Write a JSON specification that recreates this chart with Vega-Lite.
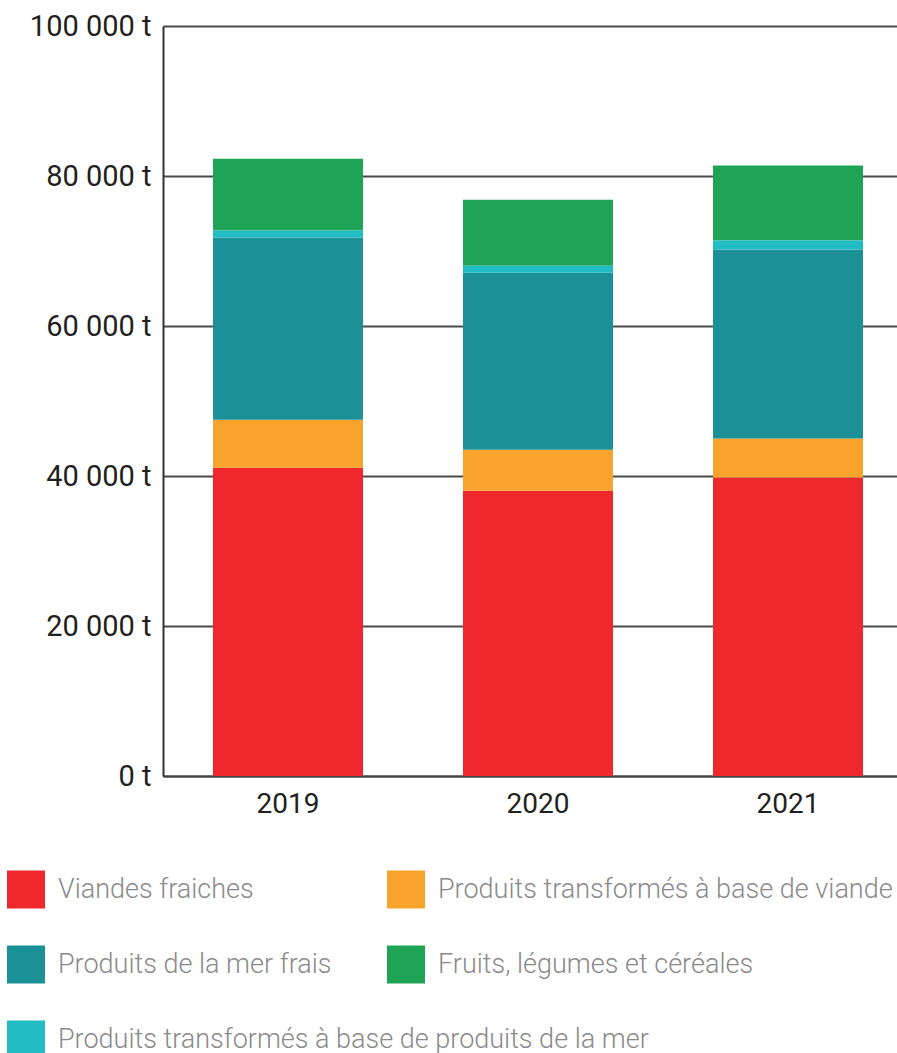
{
  "$schema": "https://vega.github.io/schema/vega-lite/v6.json",
  "width": 750,
  "height": 750,
  "padding": {"left": 6, "top": 12, "right": 0, "bottom": 0},
  "background": "white",
  "config": {
    "view": {"stroke": null},
    "font": "Roboto",
    "locale": {"number": {"decimal": ",", "thousands": " ", "grouping": [3], "currency": ["", " €"]}}
  },
  "data": {
    "values": [
      {"year": "2019", "cat": "Viandes fraiches", "value": 41100},
      {"year": "2019", "cat": "Produits transformés à base de viande", "value": 6400},
      {"year": "2019", "cat": "Produits de la mer frais", "value": 24300},
      {"year": "2019", "cat": "Produits transformés à base de produits de la mer", "value": 950},
      {"year": "2019", "cat": "Fruits, légumes et céréales", "value": 9550},
      {"year": "2020", "cat": "Viandes fraiches", "value": 38050},
      {"year": "2020", "cat": "Produits transformés à base de viande", "value": 5450},
      {"year": "2020", "cat": "Produits de la mer frais", "value": 23600},
      {"year": "2020", "cat": "Produits transformés à base de produits de la mer", "value": 950},
      {"year": "2020", "cat": "Fruits, légumes et céréales", "value": 8800},
      {"year": "2021", "cat": "Viandes fraiches", "value": 39800},
      {"year": "2021", "cat": "Produits transformés à base de viande", "value": 5200},
      {"year": "2021", "cat": "Produits de la mer frais", "value": 25200},
      {"year": "2021", "cat": "Produits transformés à base de produits de la mer", "value": 1200},
      {"year": "2021", "cat": "Fruits, légumes et céréales", "value": 10000}
    ]
  },
  "transform": [
    {"calculate": "indexof(['Viandes fraiches','Produits transformés à base de viande','Produits de la mer frais','Produits transformés à base de produits de la mer','Fruits, légumes et céréales'], datum.cat)", "as": "rank"},
    {"stack": "value", "groupby": ["year"], "sort": [{"field": "rank", "order": "ascending"}], "as": ["v0", "v1"]}
  ],
  "encoding": {
    "x": {
      "field": "year", "type": "ordinal",
      "scale": {"paddingInner": 0.4, "paddingOuter": 0.2},
      "axis": {
        "title": null, "labelAngle": 0, "labelFontSize": 28, "labelColor": "#231f20",
        "labelPadding": 14, "ticks": false, "domainColor": "#444444", "domainWidth": 1.8, "grid": false
      }
    },
    "y": {
      "field": "v1", "type": "quantitative",
      "scale": {"domain": [0, 100000], "nice": false},
      "axis": {
        "title": null, "values": [0, 20000, 40000, 60000, 80000, 100000],
        "format": ",d", "labelExpr": "datum.label + ' t'",
        "labelFontSize": 29, "labelColor": "#231f20", "labelPadding": 12,
        "ticks": false, "domainColor": "#333333", "domainWidth": 2,
        "gridColor": "#4a4a4a", "gridWidth": 1.8,
        "minExtent": 157, "maxExtent": 157
      }
    },
    "y2": {"field": "v0"}
  },
  "layer": [
    {
      "transform": [{"filter": "datum.cat !== 'Produits transformés à base de produits de la mer'"}],
      "mark": {"type": "bar"},
      "encoding": {
        "color": {
          "field": "cat", "type": "nominal",
          "scale": {
            "domain": ["Viandes fraiches", "Produits transformés à base de viande", "Produits de la mer frais", "Fruits, légumes et céréales"],
            "range": ["#ee282d", "#f7a32c", "#1b9197", "#1fa354"]
          },
          "legend": {
            "title": null, "orient": "none", "legendX": -156, "legendY": 844.5,
            "direction": "horizontal", "columns": 2, "columnPadding": 55, "rowPadding": 37,
            "symbolType": "square", "symbolSize": 1444, "symbolStrokeWidth": 0,
            "labelFontSize": 27, "labelFontWeight": 300, "labelColor": "#8a8a8a",
            "labelOffset": 13, "labelLimit": 700, "padding": 0
          }
        }
      }
    },
    {
      "transform": [{"filter": "datum.cat === 'Produits transformés à base de produits de la mer'"}],
      "mark": {"type": "bar"},
      "encoding": {
        "fill": {
          "field": "cat", "type": "nominal",
          "scale": {"domain": ["Produits transformés à base de produits de la mer"], "range": ["#22bcc4"]},
          "legend": {
            "title": null, "orient": "none", "legendX": -156, "legendY": 994.5,
            "symbolType": "square", "symbolSize": 1444, "symbolStrokeWidth": 0,
            "labelFontSize": 27, "labelFontWeight": 300, "labelColor": "#8a8a8a",
            "labelOffset": 13, "labelLimit": 900, "padding": 0
          }
        }
      }
    }
  ]
}
